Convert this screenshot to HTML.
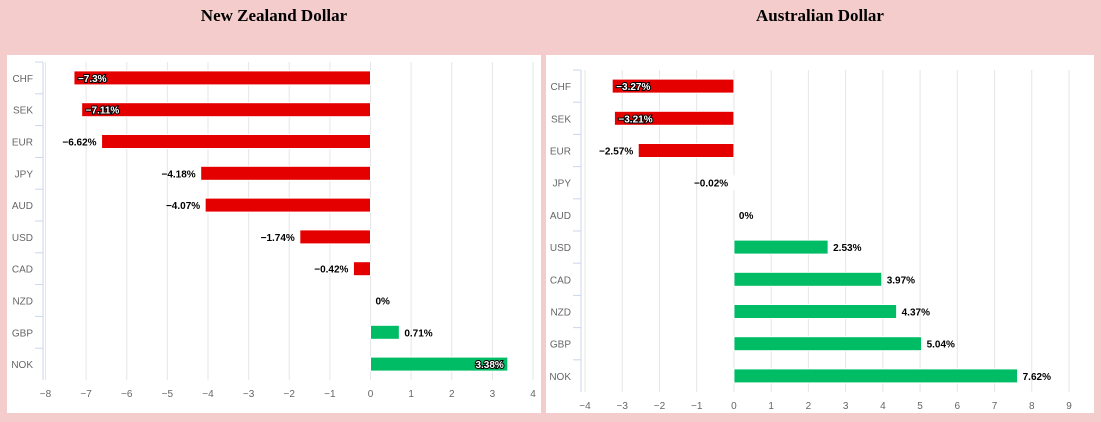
<!DOCTYPE html>
<html><head><meta charset="utf-8"><style>
body{margin:0;width:1101px;height:422px;background:#f4cccc;overflow:hidden;font-family:"Liberation Sans",sans-serif}
.title{position:absolute;top:6px;font:bold 17px "Liberation Serif",serif;color:#000;text-align:center}
.panel{position:absolute;top:55px;height:358px;background:#fff}
svg{position:absolute;left:0;top:0}
</style></head><body>
<div class="title" style="left:7px;width:534px">New Zealand Dollar</div>
<div class="title" style="left:546px;width:548px">Australian Dollar</div>
<div class="panel" style="left:7px;width:534px"></div>
<div class="panel" style="left:546px;width:548px"></div>
<svg id="s" width="1101" height="422"></svg>
<script>
const nzdCategories=["CHF","SEK","EUR","JPY","AUD","USD","CAD","NZD","GBP","NOK"];
const nzdValues=[-7.3,-7.11,-6.62,-4.18,-4.07,-1.74,-0.42,0,0.71,3.38];
const nzdTicks=[-8,-7,-6,-5,-4,-3,-2,-1,0,1,2,3,4];
const audCategories=["CHF","SEK","EUR","JPY","AUD","USD","CAD","NZD","GBP","NOK"];
const audValues=[-3.27,-3.21,-2.57,-0.02,0,2.53,3.97,4.37,5.04,7.62];
const audTicks=[-4,-3,-2,-1,0,1,2,3,4,5,6,7,8,9];
const NS="http://www.w3.org/2000/svg",svg=document.getElementById("s");
function mk(t,a,p){const e=document.createElementNS(NS,t);for(const k in a)e.setAttribute(k,a[k]);(p||svg).appendChild(e);return e;}
function chart(id,cats,vals,ticks,x0,x1,yTop,yBot,axisX,tickY){
  const g=mk("g",{});
  
  
  const min=ticks[0],max=ticks[ticks.length-1];
  const X=v=>x0+(v-min)/(max-min)*(x1-x0);
  const step=(yBot-yTop)/cats.length;
  const Y=i=>yTop+step*(i+0.5);
  ticks.forEach(t=>{
    const l=mk("line",{x1:X(t),x2:X(t),y1:yTop,y2:yBot,stroke:"#e6e6e6","stroke-width":1},g);
    
    
    const tx=mk("text",{x:X(t),y:tickY,"text-anchor":"middle","font-size":"10",fill:"#666"},g);
    tx.textContent=t<0?"\u2212"+(-t):t;
    
    
  });
  const ax=mk("line",{x1:axisX,x2:axisX,y1:yTop,y2:yBot,stroke:"#ccd6eb"},g);
  
  
  cats.forEach((c,i)=>{
    const y=Y(i);
    mk("line",{x1:axisX-8,x2:axisX,y1:yTop+step*i,y2:yTop+step*i,stroke:"#ccd6eb"},g);
    const ct=mk("text",{x:axisX-10,y:y+4,"text-anchor":"end","font-size":"10",fill:"#666"},g);
    ct.textContent=c;
    
    
    const v=vals[i],a=X(0),b=X(v);
    if(v!==0){
      const r=mk("rect",{x:Math.min(a,b),y:y-7,width:Math.abs(b-a),height:14,fill:v<0?"#e50000":"#00bc65",stroke:"#fff","stroke-width":1},g);
      
      
    }
    const txt=(v<0?"\u2212"+(-v):v)+"%";
    const w=txt.length*6.2;
    let inside,lx,anchor;
    if(v<0){inside=b-5-w<x0;lx=inside?b+4:b-5;anchor=inside?"start":"end";}
    else{inside=b+5+w>x1;lx=inside?b-4:b+5;anchor=inside?"end":"start";}
    const lt=mk("text",{x:lx,y:y+4,"text-anchor":anchor,"font-size":"10","font-weight":"bold",fill:inside?"#fff":"#000"},g);
    if(inside){lt.setAttribute("stroke","#000");lt.setAttribute("stroke-width","2");lt.setAttribute("paint-order","stroke");}
    lt.textContent=txt;
    
    
  });
}
chart("nzd",nzdCategories,nzdValues,nzdTicks,45.5,533,62,380,43,397);
chart("aud",audCategories,audValues,audTicks,585,1069,70,392,581,409);
</script>
</body></html>
